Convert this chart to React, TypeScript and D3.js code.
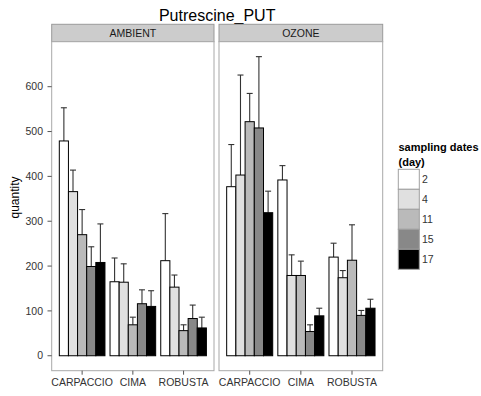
import React from "react";
import * as d3 from "d3";

const cultivars = ["CARPACCIO", "CIMA", "ROBUSTA"];
const days = ["2", "4", "11", "15", "17"];
const treatments = ["AMBIENT", "OZONE"];
const dayColors = ["#FFFFFF", "#E0E0E0", "#BABABA", "#888888", "#000000"];
const yTicks = [0, 100, 200, 300, 400, 500, 600];

// mean quantity per cultivar (rows) and day (columns)
const ambientMean = [
  [479, 366, 270, 199, 208],
  [165, 164, 69, 116, 110],
  [212, 153, 56, 83, 62],
];
const ambientSE = [
  [74, 48, 56, 44, 86],
  [53, 41, 17, 31, 35],
  [105, 27, 13, 30, 24],
];
const ozoneMean = [
  [377, 403, 522, 508, 319],
  [392, 179, 179, 54, 89],
  [220, 174, 213, 90, 106],
];
const ozoneSE = [
  [94, 223, 63, 159, 48],
  [32, 46, 32, 15, 17],
  [31, 16, 79, 11, 20],
];

const W = 481;
const H = 396;
const FONT = "'Liberation Sans', Arial, sans-serif";
const panels = [
  { x0: 51.7, x1: 214, mean: ambientMean, se: ambientSE },
  { x0: 219, x1: 382.7, mean: ozoneMean, se: ozoneSE },
];
const stripTop = 24.3;
const panelTop = 41.7;
const panelBottom = 370.7;

export default function App() {
  let maxTop = 0;
  panels.forEach((p) =>
    p.mean.forEach((row, i) =>
      row.forEach((v, j) => {
        maxTop = Math.max(maxTop, v + p.se[i][j]);
      })
    )
  );
  const pad = maxTop * 0.05;
  const y = d3.scaleLinear().domain([-pad, maxTop + pad]).range([panelBottom, panelTop]);

  return (
    <svg
      width={W}
      height={H}
      style={{ position: "absolute", left: 0, top: 0, background: "#fff" }}
      fontFamily={FONT}
    >
      <rect x={0} y={0} width={W} height={H} fill="#fff" />
      <text x={(51.7 + 382.7) / 2} y={20.5} textAnchor="middle" fontSize={16} fill="#000">
        Putrescine_PUT
      </text>
      {panels.map((p, pi) => {
        const x = d3
          .scaleBand<string>()
          .domain(cultivars)
          .range([p.x0, p.x1])
          .paddingInner(0.1)
          .paddingOuter(0.15);
        const xd = d3.scaleBand<string>().domain(days).range([0, x.bandwidth()]).padding(0);
        return (
          <g key={pi}>
            <rect
              x={p.x0}
              y={stripTop}
              width={p.x1 - p.x0}
              height={panelTop - stripTop}
              fill="#cccccc"
              stroke="#9a9a9a"
              strokeWidth={1}
            />
            <text
              x={(p.x0 + p.x1) / 2}
              y={(stripTop + panelTop) / 2 + 3.8}
              textAnchor="middle"
              fontSize={10.5}
              fill="#1a1a1a"
            >
              {treatments[pi]}
            </text>
            <rect
              x={p.x0}
              y={panelTop}
              width={p.x1 - p.x0}
              height={panelBottom - panelTop}
              fill="#fff"
              stroke="#a8a8a8"
              strokeWidth={1}
            />
            {cultivars.map((c, ci) =>
              days.map((d, di) => {
                const v = p.mean[ci][di];
                const top = v + p.se[ci][di];
                const bx = (x(c) as number) + (xd(d) as number);
                const bw = xd.bandwidth();
                const cx = bx + bw / 2;
                return (
                  <g key={c + d}>
                    <line x1={cx} x2={cx} y1={y(v)} y2={y(top)} stroke="#333" strokeWidth={1.1} />
                    <line x1={cx - 3} x2={cx + 3} y1={y(top)} y2={y(top)} stroke="#333" strokeWidth={1.1} />
                    <rect
                      x={bx}
                      y={y(v)}
                      width={bw}
                      height={y(0) - y(v)}
                      fill={dayColors[di]}
                      stroke="#000"
                      strokeWidth={1}
                    />
                  </g>
                );
              })
            )}
            {cultivars.map((c) => {
              const cx = (x(c) as number) + x.bandwidth() / 2;
              return (
                <g key={"xt" + c}>
                  <line x1={cx} x2={cx} y1={panelBottom} y2={panelBottom + 4} stroke="#555" />
                  <text x={cx} y={386} textAnchor="middle" fontSize={10.5} fill="#333">
                    {c}
                  </text>
                </g>
              );
            })}
          </g>
        );
      })}
      {yTicks.map((t) => (
        <g key={"yt" + t}>
          <line x1={47.5} x2={51.7} y1={y(t)} y2={y(t)} stroke="#555" />
          <text x={43} y={y(t) + 3.7} textAnchor="end" fontSize={10.5} fill="#333">
            {t}
          </text>
        </g>
      ))}
      <text
        transform={`translate(19, ${(stripTop + panelBottom) / 2}) rotate(-90)`}
        textAnchor="middle"
        fontSize={12}
        fill="#000"
      >
        quantity
      </text>
      <g>
        <text x={398.5} y={150.5} fontSize={11} fontWeight="bold" fill="#000">
          sampling dates
        </text>
        <text x={398.5} y={166} fontSize={11} fontWeight="bold" fill="#000">
          (day)
        </text>
        {days.map((d, i) => (
          <g key={"lg" + d}>
            <rect
              x={398.3}
              y={169.3 + i * 20}
              width={21}
              height={20}
              fill={dayColors[i]}
              stroke="#a0a0a0"
              strokeWidth={1}
            />
            <text x={422} y={169.3 + i * 20 + 14} fontSize={10.5} fill="#333">
              {d}
            </text>
          </g>
        ))}
      </g>
    </svg>
  );
}
